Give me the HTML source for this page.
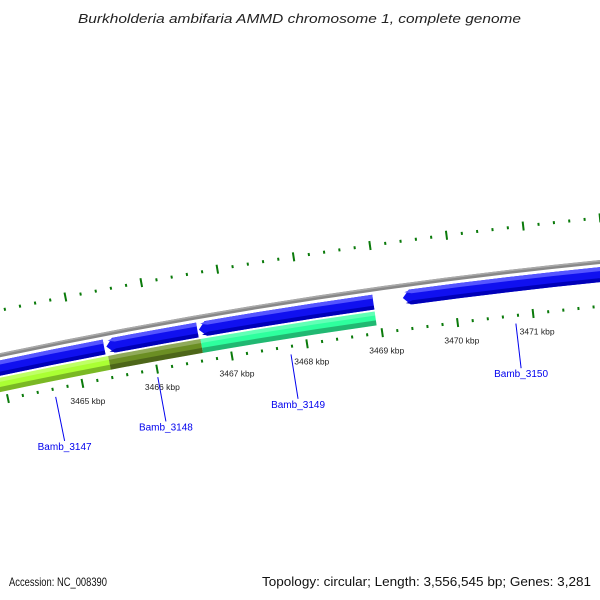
<!DOCTYPE html>
<html><head><meta charset="utf-8"><style>
html,body{margin:0;padding:0;background:#fff;}
svg{display:block;font-family:"Liberation Sans","DejaVu Sans",sans-serif;}
</style></head><body>
<svg id="map" width="600" height="600" viewBox="0 0 600 600" xmlns="http://www.w3.org/2000/svg">
<text x="78" y="23" textLength="443" lengthAdjust="spacingAndGlyphs" font-size="13" font-style="italic" fill="#222">Burkholderia ambifaria AMMD chromosome 1, complete genome</text>
<g id="ticks"></g>
<g id="backbone"></g>
<g id="genes"></g>
<g id="cogs"></g>
<g id="labels"></g>
<text x="9" y="586" textLength="98" lengthAdjust="spacingAndGlyphs" font-size="12" fill="#111">Accession: NC_008390</text>
<text x="262" y="586" textLength="329" lengthAdjust="spacingAndGlyphs" font-size="12.5" fill="#111">Topology: circular; Length: 3,556,545 bp; Genes: 3,281</text>
</svg>
<script>
// data (kbp)
const geneNames = ["Bamb_3147","Bamb_3148","Bamb_3149","Bamb_3150"];
const geneStarts = [3462.5, 3465.40, 3466.63, 3469.33];
const geneEnds   = [3465.37, 3466.61, 3468.94, 3473.5];
const cogStarts  = [3462.5, 3465.40, 3466.63];
const cogEnds    = [3465.40, 3466.63, 3468.94];
const cogColors  = ["#aaff33","#6b8e23","#2eff9e"];
const labelKbp   = [3464.62, 3465.99, 3467.77, 3470.76];
const tickMin = 3462, tickMax = 3474, tickStep = 0.2;
const tickLabelKbp = [3465, 3466, 3467, 3468, 3469, 3470, 3471];

const NS="http://www.w3.org/2000/svg";
const CX=1161, CY=5852, R0=5618;
const TH0=-0.15381, K=0.01364;
function ang(kbp){return TH0+(kbp-3468)*K;}
function pt(th,r){return [CX+r*Math.sin(th), CY-r*Math.cos(th)];}
function mk(tag,attrs,parent){const e=document.createElementNS(NS,tag);for(const k in attrs)e.setAttribute(k,attrs[k]);parent.appendChild(e);return e;}
function arcPath(a,b,r){const p=pt(a,r),q=pt(b,r);return `M${p[0]},${p[1]} A${r},${r} 0 0 1 ${q[0]},${q[1]}`;}
function band(a,b,r1,r2,arrowLeft){
  const d=7/((r1+r2)/2);
  const aa=arrowLeft?a+d:a;
  const o1=pt(aa,r2),o2=pt(b,r2),i2=pt(b,r1),i1=pt(aa,r1),tip=pt(a,(r1+r2)/2);
  let s=`M${o1[0]},${o1[1]} A${r2},${r2} 0 0 1 ${o2[0]},${o2[1]} L${i2[0]},${i2[1]} A${r1},${r1} 0 0 0 ${i1[0]},${i1[1]}`;
  if(arrowLeft) s+=` L${tip[0]},${tip[1]}`;
  return s+"Z";
}
// backbone
const bb=document.getElementById('backbone');
let e=mk('path',{d:arcPath(ang(3460),ang(3476),R0),stroke:'#888',"stroke-width":4,fill:'none'},bb);

e=mk('path',{d:arcPath(ang(3460),ang(3476),R0+1.2),stroke:'#aaa',"stroke-width":1.5,fill:'none'},bb);

// ticks
const tg=document.getElementById('ticks');
for(let i=0;i<=Math.round((tickMax-tickMin)/tickStep);i++){
  const v=tickMin+i*tickStep; const major=(i%5===0); const th=ang(v);
  for(const base of [R0+44,R0-44]){
    const h=major?4.5:1.5;
    const p=pt(th,base-h),q=pt(th,base+h);
    const t=mk('line',{x1:p[0],y1:p[1],x2:q[0],y2:q[1],stroke:'#0a7a0a',"stroke-width":2},tg);
    
    
  }
}
for(const v of tickLabelKbp){
  const p=pt(ang(v),R0-62);
  const t=mk('text',{x:p[0]+2,y:p[1]+3,"font-size":8.5,"text-anchor":"middle",fill:'#222'},tg);
  t.textContent=v+" kbp";
  
  
}
// genes
const gg=document.getElementById('genes');
for(let i=0;i<geneNames.length;i++){
  const a=ang(geneStarts[i]),b=ang(geneEnds[i]);
  const g=mk('g',{},gg);
  
  
  mk('path',{d:band(a,b,R0-20,R0-5,true),fill:'#1010f0'},g);
  mk('path',{d:band(a+0.0004,b,R0-9,R0-5,true),fill:'#5555ff'},g);
  mk('path',{d:band(a+0.0004,b,R0-20,R0-16,true),fill:'#0000b8'},g);
}
// COG
const cg=document.getElementById('cogs');
for(let i=0;i<cogStarts.length;i++){
  const a=ang(cogStarts[i]),b=ang(cogEnds[i]);
  const g=mk('g',{},cg);
  
  
  mk('path',{d:band(a,b,R0-36,R0-22,false),fill:cogColors[i]},g);
  mk('path',{d:band(a,b,R0-36,R0-31,false),fill:'rgba(0,0,0,0.28)'},g);
  mk('path',{d:band(a,b,R0-26,R0-22,false),fill:'rgba(255,255,255,0.25)'},g);
}
// labels
const lg=document.getElementById('labels');
for(let i=0;i<geneNames.length;i++){
  const th=ang(labelKbp[i]);
  const p=pt(th,R0-52),q=pt(th,R0-97);
  const l=mk('line',{x1:p[0],y1:p[1],x2:q[0],y2:q[1],stroke:'#0000ee',"stroke-width":1},lg);
  
  
  const t=mk('text',{x:q[0],y:q[1]+9,"font-size":10,"text-anchor":"middle",fill:'#0000ee'},lg);
  t.textContent=geneNames[i];
  
  
}
</script>
</body></html>
